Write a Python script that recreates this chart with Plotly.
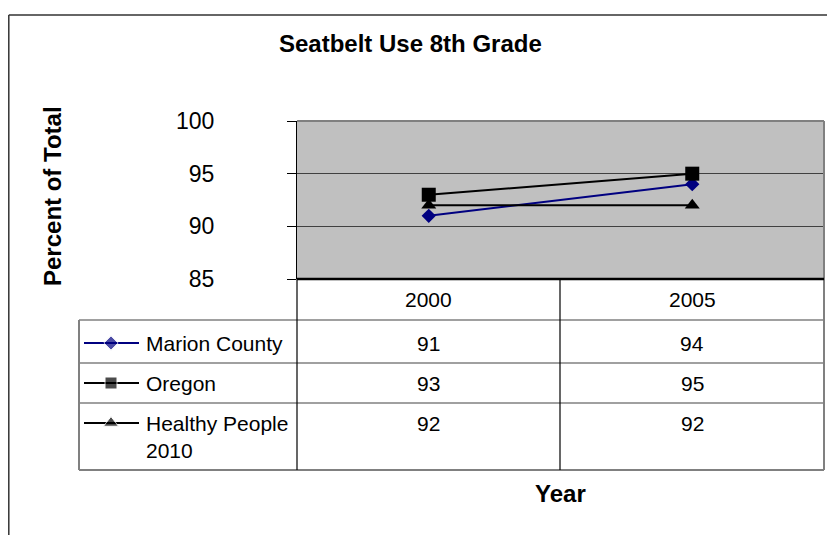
import plotly.graph_objects as go

# ---- data ----
years = ["2000", "2005"]
series_names = ["Marion County", "Oregon", "Healthy People 2010"]
marion_county = [91, 94]
oregon = [93, 95]
healthy_people = [92, 92]
y_ticks = [85, 90, 95, 100]

# page is 835x535; html body has an 8px margin, so the figure is shifted by 8px
OFF = 8
W, H = 835 - OFF, 535 - OFF
FONT = "Arial, Liberation Sans, sans-serif"


def px(x):
    return (x - OFF) / W


def py(y):
    return 1 - (y - OFF) / H


series = [
    (series_names[0], marion_county, "#000080", "diamond", 11, 11),
    (series_names[1], oregon, "#000000", "square", 14, 12),
    (series_names[2], healthy_people, "#000000", "triangle-up", 13, 13),
]

fig = go.Figure()

# main chart lines
for name, vals, color, sym, size, lsize in series:
    fig.add_trace(go.Scatter(
        x=years, y=vals, mode="lines+markers", name=name,
        line=dict(color=color, width=2),
        marker=dict(symbol=sym, size=size, color=color),
        showlegend=False, cliponaxis=False,
    ))

# legend keys inside the data table (separate full-page axis in pixel units)
row_y = [343, 383, 423]
for (name, vals, color, sym, size, lsize), ry in zip(series, row_y):
    fig.add_trace(go.Scatter(
        x=[84, 111, 139], y=[ry, ry, ry], mode="lines+markers",
        line=dict(color=color, width=2),
        marker=dict(symbol=sym, size=[0, lsize, 0], color=color),
        xaxis="x2", yaxis="y2", showlegend=False, hoverinfo="skip",
    ))

shapes = []
# plot area background
shapes.append(dict(type="rect", xref="paper", yref="paper", x0=px(297), x1=px(824),
                   y0=py(279), y1=py(121), fillcolor="#C0C0C0", line=dict(width=0),
                   layer="below"))
# outer chart frame
shapes.append(dict(type="line", xref="paper", yref="paper", x0=px(8.8), x1=px(835),
                   y0=py(15), y1=py(15), line=dict(color="#333333", width=1.5)))
shapes.append(dict(type="line", xref="paper", yref="paper", x0=px(8.8), x1=px(8.8),
                   y0=py(15), y1=py(535), line=dict(color="#333333", width=1.5)))
# plot area top/right border
shapes.append(dict(type="line", xref="paper", yref="paper", x0=px(297), x1=px(824),
                   y0=py(121), y1=py(121), line=dict(color="#808080", width=2)))
shapes.append(dict(type="line", xref="paper", yref="paper", x0=px(824), x1=px(824),
                   y0=py(121), y1=py(279), line=dict(color="#808080", width=2)))

gray = "#808080"
# table horizontal lines
for yy in [320, 363, 403]:
    shapes.append(dict(type="line", xref="paper", yref="paper", x0=px(79), x1=px(824),
                       y0=py(yy), y1=py(yy), line=dict(color=gray, width=1.5)))
shapes.append(dict(type="line", xref="paper", yref="paper", x0=px(79), x1=px(824),
                   y0=py(470), y1=py(470), line=dict(color=gray, width=2)))
# table vertical lines
shapes.append(dict(type="line", xref="paper", yref="paper", x0=px(79), x1=px(79),
                   y0=py(320), y1=py(470), line=dict(color=gray, width=2)))
for xx in [297, 560]:
    shapes.append(dict(type="line", xref="paper", yref="paper", x0=px(xx), x1=px(xx),
                       y0=py(279), y1=py(470), line=dict(color="#000000", width=1.2)))
shapes.append(dict(type="line", xref="paper", yref="paper", x0=px(824), x1=px(824),
                   y0=py(279), y1=py(470), line=dict(color=gray, width=2)))
# bottom axis line (85)
shapes.append(dict(type="line", xref="paper", yref="paper", x0=px(297), x1=px(824),
                   y0=py(279), y1=py(279), line=dict(color="#000000", width=2.5)))

annotations = []


def ann(text, x, y, size, xanchor="center", yanchor="middle", angle=0, align="center"):
    annotations.append(dict(text=text, x=px(x), y=py(y), xref="paper", yref="paper",
                            xanchor=xanchor, yanchor=yanchor, textangle=angle,
                            align=align, showarrow=False,
                            font=dict(size=size, family=FONT, color="#000")))


ann("<b>Seatbelt Use 8th Grade</b>", 410, 43, 24)
ann("<b>Percent of Total</b>", 53, 196, 24, angle=-90)
ann("<b>Year</b>", 560, 493, 24)

col_x = [428.5, 692]
for cx, yr in zip(col_x, years):
    ann(yr, cx, 299, 21)

label_texts = ["Marion County", "Oregon", "Healthy People<br>2010"]
for lbl, ry in zip(label_texts, row_y):
    ann(lbl, 144, ry - 13, 21, xanchor="left", yanchor="top", align="left")

for (name, vals, color, sym, size, lsize), ry in zip(series, row_y):
    for cx, v in zip(col_x, vals):
        ann(str(v), cx, ry, 21)

fig.update_layout(
    width=W, height=H,
    margin=dict(l=0, r=0, t=0, b=0, pad=0, autoexpand=False),
    paper_bgcolor="white",
    plot_bgcolor="rgba(0,0,0,0)",
    font=dict(family=FONT, color="#000"),
    xaxis=dict(domain=[px(297), px(824)], type="category", range=[-0.5, 1.5],
               showticklabels=False, showgrid=False, zeroline=False, showline=False,
               ticks=""),
    yaxis=dict(domain=[py(279), py(121)], range=[85, 100], tickvals=y_ticks,
               showgrid=True, gridcolor="#404040", gridwidth=1, zeroline=False,
               showline=True, linecolor="#000", linewidth=1.2,
               ticks="outside", ticklen=9, tickcolor="#000", tickwidth=1,
               ticklabelstandoff=68,
               tickfont=dict(size=23, family=FONT, color="#000")),
    xaxis2=dict(domain=[0, 1], range=[OFF, 835], visible=False, anchor="y2"),
    yaxis2=dict(domain=[0, 1], range=[535, OFF], visible=False, anchor="x2"),
    shapes=shapes,
    annotations=annotations,
)

fig.write_html("out.html")
